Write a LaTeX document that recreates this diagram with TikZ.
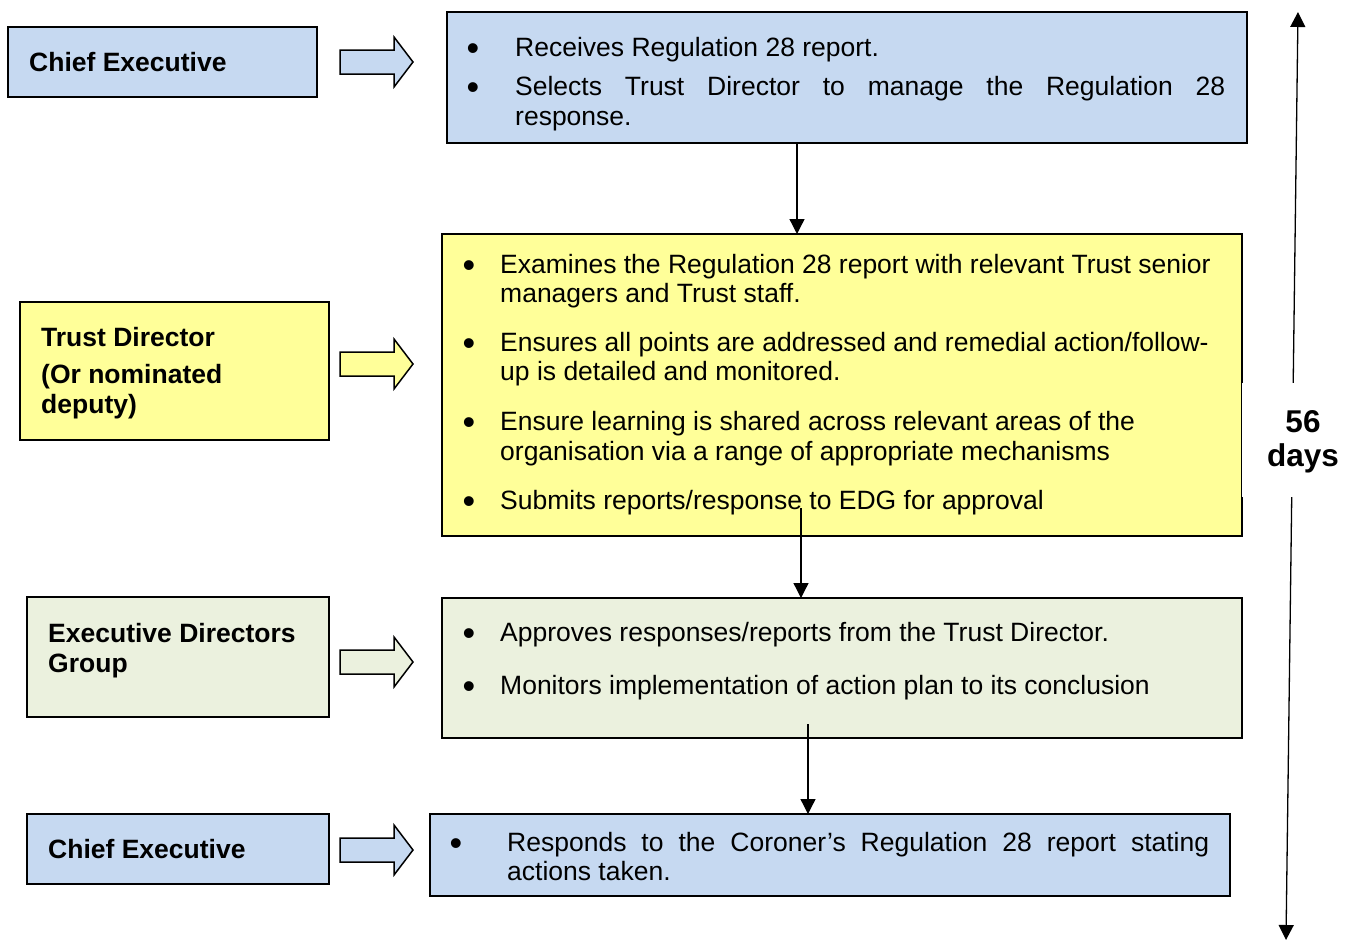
\documentclass[tikz,border=0pt]{standalone}
\usepackage{fontspec}
\setmainfont{Liberation Sans}
\usetikzlibrary{arrows.meta}
\definecolor{bluefill}{HTML}{C6D9F1}
\definecolor{yellowfill}{HTML}{FFFF99}
\definecolor{greenfill}{HTML}{EBF1DE}

% block arrow pointing right, centred vertically on #1, filled with #2
\newcommand\flowarrow[2]{%
  \draw[blockarrow, fill=#2] (340,#1-12) -- (394,#1-12) -- (394,#1-25) -- (413,#1)
    -- (394,#1+25) -- (394,#1+12) -- (340,#1+12) -- cycle;}

\begin{document}
\begin{tikzpicture}[x=1pt,y=-1pt,
  box/.style={draw=black, line width=1.5pt, inner sep=0pt, outer sep=0pt},
  role/.style={anchor=base west, inner sep=0pt, font=\fontsize{26.5}{30}\selectfont\bfseries},
  item/.style={anchor=base west, inner sep=0pt, font=\fontsize{26.5}{30}\selectfont},
  bul/.style={anchor=base, inner sep=0pt, yshift=-4.5pt, font=\fontsize{36}{36}\selectfont},
  conn/.style={line width=1.3pt, -{Triangle[width=15pt,length=15pt]}},
  blockarrow/.style={draw=black, line width=1.5pt, line join=miter}]

\useasboundingbox (0,0) rectangle (1353,940);

% ---- role boxes (left column)
\node[box, fill=bluefill, minimum width=309pt, minimum height=70pt] (l1) at (162.5,62) {};
\node[box, fill=yellowfill, minimum width=309pt, minimum height=138pt] (l2) at (174.5,371) {};
\node[box, fill=greenfill, minimum width=302pt, minimum height=120pt] (l3) at (178,657) {};
\node[box, fill=bluefill, minimum width=302pt, minimum height=70pt] (l4) at (178,849) {};

\node[role] (l1a) at (29,71) {Chief Executive};
\node[role] (l2a) at (41,346) {Trust Director};
\node[role] (l2b) at (41,383) {(Or nominated};
\node[role] (l2c) at (41,413) {deputy)};
\node[role] (l3a) at (48,642) {Executive Directors};
\node[role] (l3b) at (48,672) {Group};
\node[role] (l4a) at (48,858) {Chief Executive};

% ---- block arrows
\flowarrow{62}{bluefill}
\flowarrow{364}{yellowfill}
\flowarrow{662}{greenfill}
\flowarrow{850}{bluefill}

% ---- task boxes (right column)
\node[box, fill=bluefill, minimum width=800pt, minimum height=131pt] (r1) at (847,77.5) {};
\node[box, fill=yellowfill, minimum width=800pt, minimum height=302pt] (r2) at (842,385) {};
\node[box, fill=greenfill, minimum width=800pt, minimum height=140pt] (r3) at (842,668) {};
\node[box, fill=bluefill, minimum width=800pt, minimum height=82pt] (r4) at (830,855) {};

% box 1
\node[bul] (b1a) at (473,56) {•};
\node[item] (t1a) at (515,56) {Receives Regulation 28 report.};
\node[bul] (b1b) at (473,95) {•};
\node[item] (t1b) at (515,95) {\makebox[710pt][s]{Selects Trust Director to manage the Regulation 28}};
\node[item] (t1c) at (515,125) {response.};

% box 2
\node[bul] (b2a) at (469,273) {•};
\node[item] (t2a) at (500,273) {Examines the Regulation 28 report with relevant Trust senior};
\node[item] (t2b) at (500,302) {managers and Trust staff.};
\node[bul] (b2c) at (469,351) {•};
\node[item] (t2c) at (500,351) {Ensures all points are addressed and remedial action/follow-};
\node[item] (t2d) at (500,380) {up is detailed and monitored.};
\node[bul] (b2e) at (469,430) {•};
\node[item] (t2e) at (500,430) {Ensure learning is shared across relevant areas of the};
\node[item] (t2f) at (500,460) {organisation via a range of appropriate mechanisms};
\node[bul] (b2g) at (469,509) {•};
\node[item] (t2g) at (500,509) {Submits reports/response to EDG for approval};

% box 3
\node[bul] (b3a) at (469,641) {•};
\node[item] (t3a) at (500,641) {Approves responses/reports from the Trust Director.};
\node[bul] (b3b) at (469,694) {•};
\node[item] (t3b) at (500,694) {Monitors implementation of action plan to its conclusion};

% box 4
\node[bul] (b4a) at (456,851) {•};
\node[item] (t4a) at (507,851) {\makebox[702pt][s]{Responds to the Coroner’s Regulation 28 report stating}};
\node[item] (t4b) at (507,880) {actions taken.};

% ---- flow connectors
\draw[conn] ([xshift=-50pt]r1.south) -- ([xshift=-45pt]r2.north);
\draw[conn] ([xshift=-41pt,yshift=28pt]r2.south) -- ([xshift=-41pt]r3.north);
\draw[conn] ([xshift=-34pt,yshift=14pt]r3.south) -- ([xshift=-22pt]r4.north);

% ---- overall time span
\coordinate (spantop) at (1298,12);
\coordinate (spanbot) at (1286,940);
\draw[line width=1.3pt, {Triangle[width=15pt,length=15pt]}-{Triangle[width=15pt,length=15pt]}] (spantop) -- (spanbot);
\node[fill=white, inner sep=0pt, minimum width=111pt, minimum height=114pt] (spanbg) at (1297,440) {};
\node[anchor=base, inner sep=0pt, font=\fontsize{31.5}{34}\selectfont\bfseries] (span56) at (1303,432) {56};
\node[anchor=base, inner sep=0pt, font=\fontsize{31.5}{34}\selectfont\bfseries] (spandays) at (1303,466) {days};

\end{tikzpicture}
\end{document}
